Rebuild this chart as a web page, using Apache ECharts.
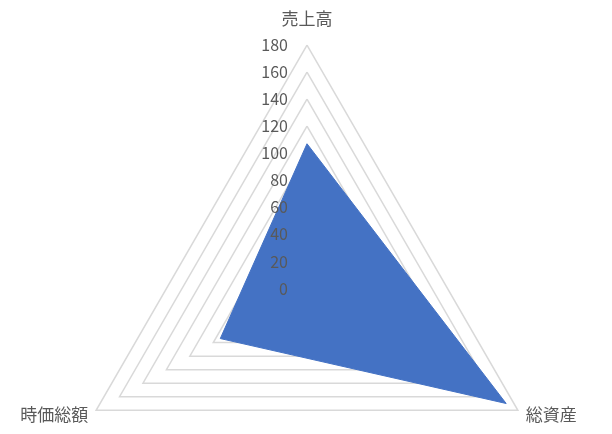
<!DOCTYPE html>
<html>
<head>
<meta charset="utf-8">
<script src="https://cdn.jsdelivr.net/npm/echarts@6/dist/echarts.min.js"></script>
<style>
html,body{margin:0;padding:0;background:#fff;}
#chart{width:612px;height:434px;}
</style>
</head>
<body>
<div id="chart"></div>
<script>
// order: top, then lower-left, then lower-right (ECharts places counter-clockwise)
const indicators = ['売上高', '時価総額', '総資産'];
const values = [107, 74, 170];
const axisMin = 0;
const axisMax = 180;
const axisStep = 20;

const font = '"Noto Sans CJK JP", "Noto Sans", sans-serif';
const center = [307, 288.5];
const radius = 243.5;
const chart = echarts.init(document.getElementById('chart'), null, {renderer: 'canvas'});
chart.setOption({
  animation: false,
  backgroundColor: '#ffffff',
  radar: [{
    z: 0,
    center: center,
    radius: radius,
    startAngle: 90,
    shape: 'polygon',
    splitNumber: (axisMax - axisMin) / axisStep,
    axisName: {
      color: '#595959', fontSize: 17, fontFamily: font,
      formatter: function (name) {
        return name === indicators[0] ? '{t|' + name + '}' : name;
      },
      rich: {t: {color: '#595959', fontSize: 17, fontFamily: font, padding: [0, 0, 9, 0]}}
    },
    nameGap: 9,
    axisLine: {show: false},
    axisTick: {show: false},
    axisLabel: {show: false},
    splitArea: {show: false},
    splitLine: {lineStyle: {color: '#d9d9d9', width: 1.5}},
    indicator: indicators.map(name => ({name: name, min: axisMin, max: axisMax}))
  }, {
    z: 10,
    center: center,
    radius: radius,
    startAngle: 90,
    shape: 'polygon',
    splitNumber: (axisMax - axisMin) / axisStep,
    axisName: {show: false},
    axisLine: {show: false},
    axisTick: {show: false},
    splitArea: {show: false},
    splitLine: {show: false},
    indicator: indicators.map((name, i) => {
      const ind = {name: name, min: axisMin, max: axisMax};
      ind.axisLabel = {show: i === 0, color: '#595959', fontSize: 16, fontFamily: font, margin: 19, showMinLabel: true};
      return ind;
    })
  }],
  series: [{
    type: 'radar',
    radarIndex: 0,
    symbol: 'none',
    z: 2,
    lineStyle: {color: '#4472c4', width: 1},
    areaStyle: {color: '#4472c4', opacity: 1},
    data: [{value: values}]
  }]
});
</script>
</body>
</html>
